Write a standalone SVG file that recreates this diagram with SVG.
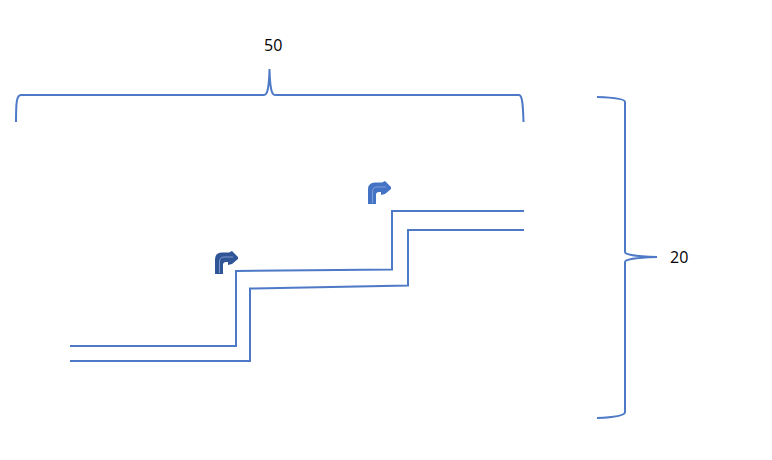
<svg xmlns="http://www.w3.org/2000/svg" width="772" height="460" viewBox="0 0 772 460">
<style>
.c{fill:none;stroke:#4472c4;stroke-width:2;opacity:.95}
.t{font-family:"Open Sans","Noto Sans",sans-serif;font-size:16px;fill:#000}
</style>
<rect width="772" height="460" fill="#fff"/>
<g id="connectors">
<path id="brace-top" class="c" d="M16 122C16 103 16.500 95 21 95H264C267 95 269 90 269.500 69C270 90 272 95 275 95H519C522 95 523 103 523.500 122"/>
<path id="brace-right" class="c" d="M597 97C614 97.500 625 99 625 102V252C625 254 632 256.500 657 257C632 257.500 625 260 625 262V412C625 416 612 417.500 597 418"/>
<path id="step-upper" class="c" d="M70 346H236V271L392 269.500V211H524"/>
<path id="step-lower" class="c" d="M70 361H250V288.500L408 285.500V230H524"/>
</g>
<g id="arrow-left">
<path d="M215 274V259Q215 253 222 252.500H229L232 251L238 257V259L232 264L228 265V262H226Q223 262 223 265V274Z" fill="#2f5597"/>
<path d="M219.500 273V262Q219.500 257 224 257H233" fill="none" stroke="#8faadc" stroke-width=".8"/>
</g>
<g id="arrow-right">
<path d="M368 204V189Q368 183 375 182.500H382L385 181L391 187V189L385 194L381 195V192H379Q376 192 376 195V204Z" fill="#4472c4"/>
<path d="M372.500 203V192Q372.500 187 377 187H386" fill="none" stroke="#8faadc" stroke-width=".8"/>
</g>
<g id="label-50"><text class="t" x="264" y="51">50</text></g>
<g id="label-20"><text class="t" x="670" y="263">20</text></g>
</svg>
